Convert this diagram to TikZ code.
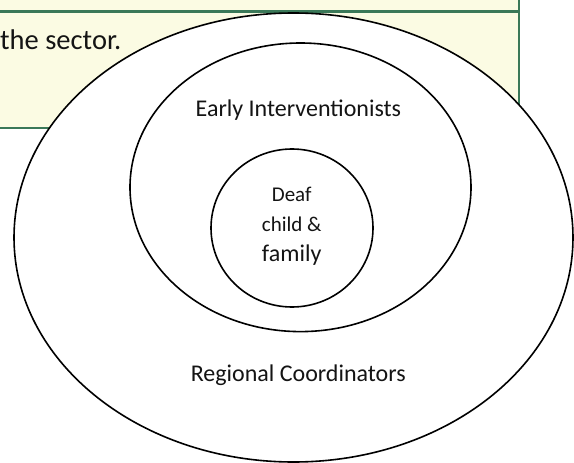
\documentclass[tikz,border=0pt]{standalone}
\usepackage{fontspec}
\setmainfont{Carlito}
\usetikzlibrary{shapes.geometric}
\definecolor{notefill}{RGB}{251,251,227}
\definecolor{noteline}{RGB}{58,120,88}
\begin{document}
\begin{tikzpicture}[x=1pt,y=-1pt,
  ring/.style={draw=black,fill=white,ellipse,line width=1.6pt,inner sep=0pt,outer sep=0pt},
  label/.style={inner sep=0pt,anchor=base,text=black!92},
  rule/.style={draw=noteline,line width=2.8pt}]
\useasboundingbox (0,0) rectangle (574,463);
\clip (0,0) rectangle (574,463);
% note box behind the rings
\fill[notefill] (-5,-5) rectangle (519,128);
\draw[rule] (-5,11.3) -- (519,11.3);
\draw[rule] (-5,128) -- (519,128);
\draw[rule] (519,-5) -- (519,128);
\node[label,anchor=base west,font=\fontsize{28.5}{32}\selectfont] (note) at (0,49.3) {the sector.};
% nested rings
\node[ring,minimum width=559pt,minimum height=449pt] (outer) at (293.5,237.5) {};
\node[ring,minimum width=341pt,minimum height=288.6pt] (middle) at (300.5,187.3) {};
\node[ring,minimum width=162pt,minimum height=158pt] (inner) at (292,228) {};
% ring labels
\node[label,font=\fontsize{24}{28}\selectfont] (ei) at (298.4,116) {Early Interventionists};
\node[label,font=\fontsize{21}{24}\selectfont] (deaf) at (291.7,201) {Deaf};
\node[label,font=\fontsize{21}{24}\selectfont] (child) at (291.7,231) {child \&};
\node[label,font=\fontsize{24}{28}\selectfont] (family) at (291.7,261.5) {family};
\node[label,font=\fontsize{24}{28}\selectfont] (rc) at (298.3,381.7) {Regional Coordinators};
\end{tikzpicture}
\end{document}
